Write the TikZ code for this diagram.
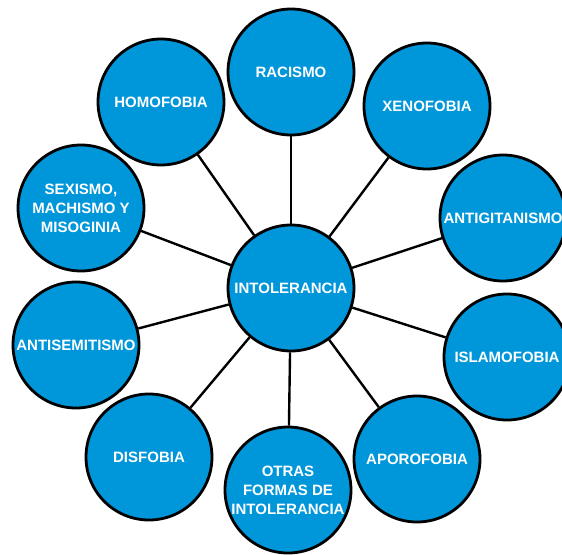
\documentclass[tikz,border=0pt]{standalone}
\usepackage{fontspec}
\setmainfont{Liberation Sans}
\definecolor{fobiablue}{RGB}{0,150,218}
\begin{document}
\begin{tikzpicture}[x=1pt,y=-1pt,
	bubble/.style={circle,draw=black,line width=2.8pt,fill=fobiablue,minimum size=126pt,inner sep=0pt,
		text=white,align=center,font=\fontsize{15}{19}\selectfont\bfseries},
	link/.style={line width=2.4pt}]
	\useasboundingbox (0,0) rectangle (562,554);
	\clip (0,0) rectangle (562,554);

	\node[bubble] (intol) at (291,288) {INTOLERANCIA};

	\node[bubble] (racismo) at (291,72) {RACISMO};
	\node[bubble] (xenofobia) at (427,106) {XENOFOBIA};
	\node[bubble] (antigitan) at (503,218) {ANTIGITANISMO};
	\node[bubble] (islamofobia) at (507,357) {ISLAMOFOBIA};
	\node[bubble] (aporofobia) at (417,459) {APOROFOBIA};
	\node[bubble] (otras) at (288,490) {OTRAS\\FORMAS DE\\INTOLERANCIA};
	\node[bubble] (disfobia) at (149,457) {DISFOBIA};
	\node[bubble] (antisemit) at (76,345) {ANTISEMITISMO};
	\node[bubble] (sexismo) at (81,208) {SEXISMO,\\MACHISMO Y\\MISOGINIA};
	\node[bubble] (homofobia) at (161,102) {HOMOFOBIA};

	\foreach \n in {racismo,xenofobia,antigitan,islamofobia,aporofobia,otras,disfobia,antisemit,sexismo,homofobia}
		\draw[link] (intol) -- (\n);
\end{tikzpicture}
\end{document}
